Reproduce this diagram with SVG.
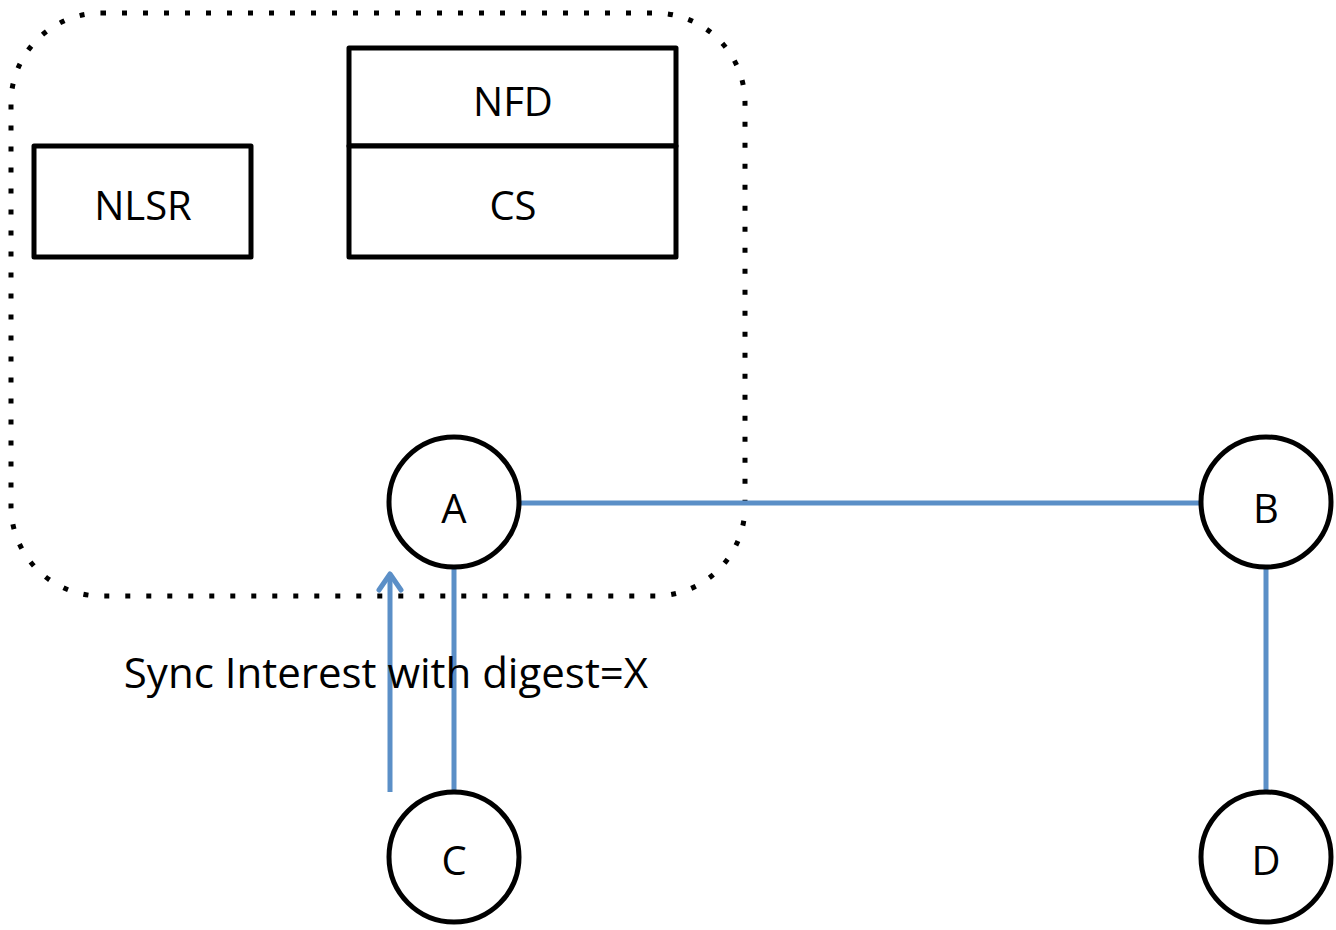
<svg xmlns="http://www.w3.org/2000/svg" width="1336" height="930" viewBox="0 0 1336 930">
<defs>
<style>
.box{fill:#fff;stroke:#000;stroke-width:5;stroke-linejoin:round}
.node{fill:#fff;stroke:#000;stroke-width:5}
.lbl{font-family:"Open Sans","Liberation Sans",sans-serif;font-size:40px;fill:#000;text-anchor:middle}
.edge{stroke:#5b8fc7;stroke-width:5;fill:none}
</style>
</defs>
<rect x="11" y="13" width="734" height="583" rx="90" ry="90" fill="none" stroke="#000" stroke-width="5" stroke-dasharray="5 16"/>
<g id="nlsr"><rect class="box" x="34" y="146" width="217" height="111"/><text class="lbl" x="143" y="220">NLSR</text></g>
<g id="nfd"><rect class="box" x="349" y="48" width="327" height="98"/><text class="lbl" x="513" y="116">NFD</text></g>
<g id="cs"><rect class="box" x="349" y="146" width="327" height="111"/><text class="lbl" x="513" y="220">CS</text></g>
<g id="connectors">
<line class="edge" x1="518" y1="503" x2="1202" y2="503"/>
<line class="edge" x1="454" y1="567" x2="454" y2="792"/>
<line class="edge" x1="1266" y1="567" x2="1266" y2="792"/>
<line class="edge" x1="390" y1="792" x2="390" y2="574"/>
<polyline class="edge" points="379,590 390,574 401,590" stroke-linecap="round" stroke-linejoin="round"/>
</g>
<g id="A"><circle class="node" cx="454" cy="502" r="65"/><text class="lbl" x="454" y="523">A</text></g>
<g id="B"><circle class="node" cx="1266" cy="502" r="65"/><text class="lbl" x="1266" y="523">B</text></g>
<g id="C"><circle class="node" cx="454" cy="857" r="65"/><text class="lbl" x="454" y="875">C</text></g>
<g id="D"><circle class="node" cx="1266" cy="857" r="65"/><text class="lbl" x="1266" y="875">D</text></g>
<text class="lbl" x="386" y="688" style="font-size:42px">Sync Interest with digest=X</text>
</svg>
